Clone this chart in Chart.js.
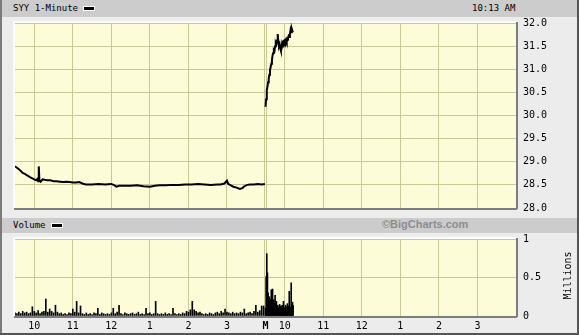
<!DOCTYPE html>
<html>
<head>
<meta charset="utf-8">
<script src="https://cdn.jsdelivr.net/npm/chart.js@4.4.1/dist/chart.umd.min.js"></script>
<style>
  body { margin: 0; background: #ececec; }
  #wrap { position: relative; width: 579px; height: 335px; background: #ececec; overflow: hidden; }
  .bar { position: absolute; left: 2px; width: 575px; background: #cccccc; font: 9px "DejaVu Sans Mono", monospace; color: #000; }
  .bar span { position: absolute; }
  .key { display: inline-block; width: 10px; height: 3px; background: #000; border: 1px solid #fff; vertical-align: middle; }
  canvas { position: absolute; left: 0; }
  #millions { position: absolute; left: 542px; top: 270px; width: 50px; text-align: center; transform: rotate(-90deg);
    font: 10px "DejaVu Sans Mono", monospace; color: #000; }
  .edgeL { position: absolute; left: 0; top: 0; width: 2px; height: 335px; background: #7a7a7a; }
  .edgeR { position: absolute; left: 577px; top: 0; width: 2px; height: 335px; background: #555; }
  .edgeB { position: absolute; left: 0; top: 333px; width: 579px; height: 2px; background: #555; }
</style>
</head>
<body>
<div id="wrap">
  <div class="bar" style="top:0;height:17px;">
    <span style="left:11px;top:3px;">SYY 1-Minute <i class="key"></i></span>
    <span style="left:470px;top:3px;">10:13 AM</span>
  </div>
  <canvas id="priceChart" width="579" height="200" style="top:17px;"></canvas>
  <div class="bar" style="top:218px;height:15px;">
    <span style="left:11px;top:2px;">Volume <i class="key"></i></span>
    <span style="left:380px;top:0px;font:bold 11px 'Liberation Sans', sans-serif;color:#8c8c8c;">©BigCharts.com</span>
  </div>
  <canvas id="volumeChart" width="579" height="103" style="top:232px;"></canvas>
  <div id="millions">Millions</div>
  <div class="edgeL"></div><div class="edgeR"></div><div class="edgeB"></div>
</div>
<script>
// x axis = trading minutes from 9:30 on day 1 (0..390 day 1, 390..780 day 2)
const xTicks = [30, 90, 150, 210, 270, 330, 390, 420, 480, 540, 600, 660, 720];
const xTickLabels = ['10', '11', '12', '1', '2', '3', 'M', '10', '11', '12', '1', '2', '3'];
const daySplit = [388.8, 391.2];

const priceTicks = [28.0, 28.5, 29.0, 29.5, 30.0, 30.5, 31.0, 31.5, 32.0];

const day1PriceMin = [0, 3, 6, 9, 12, 15, 18, 21, 24, 27, 30, 33, 35, 36, 37, 38, 40, 43, 46, 50,
  55, 60, 65, 70, 75, 80, 85, 90, 95, 100, 105, 110, 120, 130, 140, 150, 155, 158, 162, 170,
  180, 190, 200, 210, 218, 225, 235, 245, 255, 265, 275, 285, 295, 305, 315, 320, 326, 330, 332, 336,
  340, 345, 350, 354, 358, 362, 366, 372, 378, 384, 389];
const day1Price = [28.90, 28.87, 28.84, 28.80, 28.76, 28.74, 28.71, 28.69, 28.66, 28.64, 28.62, 28.60, 28.63, 28.58, 28.90, 28.60, 28.57, 28.62, 28.61, 28.60,
  28.60, 28.58, 28.58, 28.57, 28.56, 28.57, 28.56, 28.55, 28.55, 28.56, 28.53, 28.51, 28.51, 28.52, 28.51, 28.52, 28.49, 28.46, 28.48, 28.48,
  28.48, 28.49, 28.47, 28.46, 28.48, 28.49, 28.49, 28.50, 28.50, 28.51, 28.51, 28.52, 28.51, 28.50, 28.51, 28.51, 28.53, 28.59, 28.52, 28.49,
  28.46, 28.44, 28.41, 28.43, 28.48, 28.50, 28.51, 28.51, 28.52, 28.51, 28.52];

// day 2: one value per minute from 9:30 (minute 390) to 10:13
const day2Start = 390;
const day2Price = [30.19, 30.35, 30.55, 30.62, 30.72, 30.80, 30.88, 30.98, 31.05, 31.12,
  31.20, 31.30, 31.35, 31.42, 31.40, 31.50, 31.58, 31.55, 31.62, 31.76,
  31.60, 31.50, 31.54, 31.45, 31.40, 31.48, 31.58, 31.55, 31.60, 31.62,
  31.58, 31.62, 31.65, 31.60, 31.64, 31.68, 31.72, 31.70, 31.76, 31.85,
  31.80, 31.87, 31.82, 31.80];

// volume (millions): day 1 sampled every 3 minutes, day 2 every minute
const day1VolStep = 3;
const day1Volume = [0.04, 0.03, 0.05, 0.03, 0.06, 0.04, 0.05, 0.03, 0.04, 0.12,
  0.06, 0.04, 0.07, 0.03, 0.05, 0.06, 0.22, 0.05, 0.09, 0.06,
  0.04, 0.14, 0.05, 0.03, 0.04, 0.02, 0.03, 0.02, 0.04, 0.03,
  0.09, 0.05, 0.19, 0.04, 0.13, 0.03, 0.02, 0.04, 0.02, 0.03,
  0.02, 0.04, 0.03, 0.10, 0.02, 0.04, 0.03, 0.02, 0.03, 0.02,
  0.04, 0.10, 0.03, 0.05, 0.14, 0.03, 0.02, 0.04, 0.03, 0.02,
  0.03, 0.04, 0.02, 0.03, 0.05, 0.02, 0.03, 0.02, 0.10, 0.03,
  0.04, 0.02, 0.03, 0.19, 0.03, 0.02, 0.03, 0.02, 0.04, 0.02,
  0.03, 0.02, 0.10, 0.03, 0.02, 0.03, 0.02, 0.04, 0.03, 0.06,
  0.05, 0.08, 0.19, 0.08, 0.06, 0.04, 0.05, 0.03, 0.02, 0.03,
  0.02, 0.04, 0.03, 0.02, 0.04, 0.05, 0.03, 0.06, 0.04, 0.09,
  0.05, 0.04, 0.03, 0.05, 0.03, 0.04, 0.03, 0.05, 0.04, 0.09,
  0.03, 0.04, 0.05, 0.03, 0.06, 0.14, 0.05, 0.07, 0.13, 0.13];
const day2Volume = [0.10, 0.51, 0.81, 0.56, 0.30, 0.21, 0.25, 0.18, 0.22, 0.34,
  0.20, 0.35, 0.15, 0.21, 0.16, 0.27, 0.14, 0.19, 0.12, 0.14,
  0.10, 0.12, 0.15, 0.11, 0.13, 0.10, 0.14, 0.12, 0.19, 0.11,
  0.10, 0.14, 0.12, 0.08, 0.16, 0.10, 0.13, 0.32, 0.12, 0.10,
  0.43, 0.12, 0.18, 0.14];

const GRID = '#c9c995';
const MONO = 'DejaVu Sans Mono';

const plotFrame = {
  id: 'plotFrame',
  beforeDraw(chart) {
    const { ctx, chartArea: a } = chart;
    ctx.save();
    ctx.fillStyle = '#fcfcd9';
    ctx.fillRect(a.left, a.top, a.right - a.left, a.bottom - a.top);
    ctx.restore();
  },
  afterDraw(chart) {
    const { ctx, chartArea: a } = chart;
    ctx.save();
    ctx.fillStyle = '#ffffff';
    ctx.fillRect(a.left - 2, a.top - 2, a.right - a.left + 2, 2);
    ctx.fillRect(a.left - 2, a.top - 2, 2, a.bottom - a.top + 2);
    ctx.fillStyle = '#7c7c7c';
    ctx.fillRect(a.left - 1, a.bottom, a.right - a.left + 2, 2);
    ctx.fillRect(a.right, a.top - 1, 2, a.bottom - a.top + 2);
    ctx.restore();
  }
};

function xAxis(showLabels) {
  return {
    type: 'linear',
    min: 0,
    max: 780,
    offset: false,
    afterBuildTicks: s => { s.ticks = xTicks.concat(daySplit).sort((a, b) => a - b).map(v => ({ value: v })); },
    afterFit: s => { s.height = showLabels ? 19 : 0; },
    border: { display: false },
    grid: {
      offset: false,
      drawTicks: false,
      color: c => (c.tick && c.tick.value === 390 ? 'rgba(0,0,0,0)' : GRID),
      lineWidth: 1
    },
    ticks: {
      display: showLabels,
      autoSkip: false,
      maxRotation: 0,
      padding: 4,
      color: '#000',
      font: c => ({ family: MONO, size: 10, weight: c.tick && c.tick.value === 390 ? 'bold' : 'normal' }),
      callback: v => { const i = xTicks.indexOf(v); return i < 0 ? '' : xTickLabels[i]; }
    }
  };
}

function yAxis(min, max, ticks, fmt) {
  return {
    position: 'right',
    min: min,
    max: max,
    afterBuildTicks: s => { s.ticks = ticks.map(v => ({ value: v })); },
    afterFit: s => { s.width = 63; },
    border: { display: false },
    // invisible tick marks push the labels 7px right of the plot
    grid: { drawTicks: true, tickLength: 7, tickColor: 'rgba(0,0,0,0)', color: GRID },
    ticks: { padding: 0, color: '#000', font: { family: MONO, size: 10 }, callback: fmt }
  };
}

const day1Points = day1PriceMin.map((m, i) => ({ x: m, y: day1Price[i] }));
const day2Points = day2Price.map((p, i) => ({ x: day2Start + i, y: p }));

new Chart(document.getElementById('priceChart'), {
  type: 'line',
  data: {
    datasets: [
      { data: day1Points, borderColor: '#000', borderWidth: 2, pointRadius: 0, tension: 0 },
      { data: day2Points, borderColor: '#000', borderWidth: 2, pointRadius: 0, tension: 0 }
    ]
  },
  options: {
    responsive: false,
    animation: false,
    layout: { padding: { left: 15, top: 6, bottom: 9, right: 0 } },
    plugins: { legend: { display: false }, tooltip: { enabled: false } },
    scales: {
      x: xAxis(false),
      y: yAxis(28, 32, priceTicks, v => v.toFixed(1))
    }
  },
  plugins: [plotFrame]
});

const volPoints = day1Volume.map((v, i) => ({ x: i * day1VolStep, y: v }))
  .concat(day2Volume.map((v, i) => ({ x: day2Start + i, y: v })));

new Chart(document.getElementById('volumeChart'), {
  type: 'bar',
  data: {
    datasets: [{ data: volPoints, backgroundColor: '#000', barThickness: 1, categoryPercentage: 1, barPercentage: 1 }]
  },
  options: {
    responsive: false,
    animation: false,
    layout: { padding: { left: 15, top: 7, bottom: 0, right: 0 } },
    plugins: { legend: { display: false }, tooltip: { enabled: false } },
    scales: {
      x: xAxis(true),
      y: yAxis(0, 1, [0, 0.5, 1], v => String(v))
    }
  },
  plugins: [plotFrame]
});
</script>
</body>
</html>
